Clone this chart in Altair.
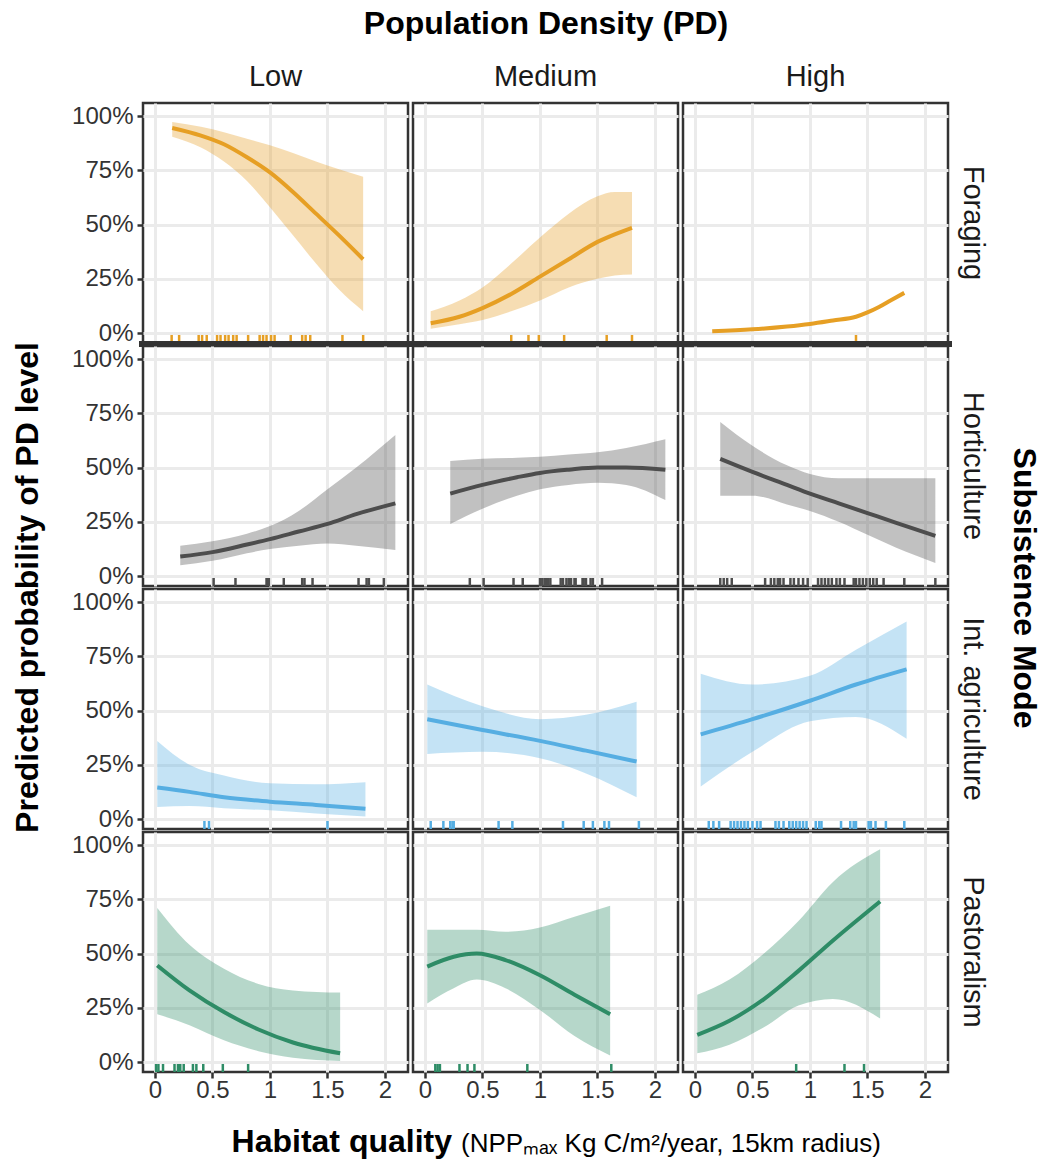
import altair as alt
import pandas as pd

MODES = ["Foraging", "Horticulture", "Int. agriculture", "Pastoralism"]
PD_LEVELS = ["Low", "Medium", "High"]
LINE_COLORS = ["#E69F24", "#4D4D4D", "#56AEE2", "#2E8C66"]

Y_TICKS = [0, 0.25, 0.5, 0.75, 1]
X_TICKS = [0, 0.5, 1, 1.5, 2]

Y_TITLE = "Predicted probability of PD level"
COL_TITLE = "Population Density (PD)"
ROW_TITLE = "Subsistence Mode"
X_TITLE_MAIN = "Habitat quality"
X_TITLE_UNITS = "(NPPₘₐₓ Kg C/m²/year, 15km radius)"

# rows: (habitat quality, fitted probability, lower CI, upper CI)
foraging_low = [(0.15, 0.945, 0.905, 0.972), (0.40, 0.91, 0.855, 0.95), (0.60, 0.87, 0.79, 0.925),
                (0.80, 0.81, 0.70, 0.895), (1.00, 0.74, 0.58, 0.865), (1.20, 0.65, 0.45, 0.83),
                (1.40, 0.55, 0.32, 0.79), (1.60, 0.45, 0.20, 0.755), (1.81, 0.34, 0.10, 0.72)]
foraging_med = [(0.05, 0.045, 0.02, 0.10), (0.30, 0.075, 0.04, 0.15), (0.50, 0.115, 0.06, 0.21),
                (0.75, 0.18, 0.10, 0.32), (1.00, 0.26, 0.15, 0.44), (1.25, 0.34, 0.21, 0.55),
                (1.50, 0.42, 0.25, 0.63), (1.65, 0.455, 0.265, 0.65), (1.80, 0.485, 0.27, 0.65)]
foraging_high = [(0.15, 0.008, 0.008, 0.008), (0.50, 0.017, 0.017, 0.017), (0.80, 0.03, 0.03, 0.03),
                 (1.00, 0.042, 0.042, 0.042), (1.20, 0.058, 0.058, 0.058), (1.40, 0.075, 0.075, 0.075),
                 (1.50, 0.095, 0.095, 0.095), (1.60, 0.12, 0.12, 0.12), (1.70, 0.15, 0.15, 0.15),
                 (1.82, 0.185, 0.185, 0.185)]
horti_low = [(0.22, 0.09, 0.05, 0.14), (0.50, 0.11, 0.07, 0.16), (0.80, 0.145, 0.105, 0.195),
             (1.00, 0.17, 0.125, 0.23), (1.25, 0.205, 0.14, 0.30), (1.50, 0.24, 0.15, 0.40),
             (1.75, 0.285, 0.14, 0.50), (2.09, 0.335, 0.12, 0.65)]
horti_med = [(0.22, 0.38, 0.24, 0.53), (0.50, 0.42, 0.31, 0.54), (0.80, 0.455, 0.37, 0.545),
             (1.00, 0.475, 0.40, 0.55), (1.25, 0.49, 0.42, 0.56), (1.50, 0.50, 0.43, 0.57),
             (1.75, 0.50, 0.42, 0.59), (2.09, 0.49, 0.35, 0.63)]
horti_high = [(0.22, 0.54, 0.37, 0.71), (0.50, 0.48, 0.37, 0.60), (0.80, 0.42, 0.33, 0.51),
              (1.00, 0.38, 0.30, 0.47), (1.25, 0.335, 0.25, 0.45), (1.50, 0.29, 0.19, 0.45),
              (1.75, 0.245, 0.13, 0.45), (2.09, 0.185, 0.06, 0.45)]
intag_low = [(0.02, 0.145, 0.055, 0.36), (0.30, 0.125, 0.06, 0.25), (0.60, 0.10, 0.05, 0.20),
             (1.00, 0.08, 0.04, 0.165), (1.40, 0.065, 0.025, 0.16), (1.83, 0.047, 0.012, 0.17)]
intag_med = [(0.02, 0.46, 0.30, 0.62), (0.50, 0.41, 0.31, 0.52), (1.00, 0.36, 0.28, 0.46),
             (1.40, 0.315, 0.21, 0.48), (1.84, 0.265, 0.10, 0.54)]
intag_high = [(0.05, 0.39, 0.15, 0.67), (0.50, 0.46, 0.31, 0.62), (1.00, 0.545, 0.45, 0.66),
              (1.40, 0.62, 0.47, 0.78), (1.84, 0.69, 0.37, 0.91)]
pasto_low = [(0.02, 0.445, 0.22, 0.71), (0.30, 0.33, 0.17, 0.54), (0.60, 0.23, 0.10, 0.43),
             (0.90, 0.15, 0.05, 0.36), (1.20, 0.09, 0.02, 0.33), (1.61, 0.04, 0.005, 0.32)]
pasto_med = [(0.02, 0.44, 0.27, 0.61), (0.25, 0.485, 0.34, 0.61), (0.45, 0.50, 0.38, 0.61),
             (0.70, 0.47, 0.34, 0.60), (1.00, 0.40, 0.24, 0.62), (1.30, 0.31, 0.12, 0.67),
             (1.61, 0.22, 0.03, 0.72)]
pasto_high = [(0.02, 0.125, 0.04, 0.31), (0.30, 0.19, 0.08, 0.38), (0.60, 0.29, 0.16, 0.50),
              (0.90, 0.42, 0.26, 0.65), (1.20, 0.56, 0.29, 0.83), (1.61, 0.74, 0.20, 0.98)]

# observed habitat quality of societies (rug)
rug_foraging_low = [0.145, 0.21, 0.38, 0.41, 0.45, 0.54, 0.57, 0.61, 0.64, 0.68, 0.71, 0.81,
                    0.91, 0.94, 0.97, 1.01, 1.04, 1.18, 1.28, 1.31, 1.35, 1.63, 1.81]
rug_foraging_med = [0.75, 0.90, 0.99, 1.21, 1.58, 1.80]
rug_foraging_high = [1.40]
rug_horti_low = [0.51, 0.70, 0.97, 0.98, 0.99, 1.12, 1.28, 1.30, 1.37, 1.77, 1.84, 1.86, 1.99]
rug_horti_med = [0.39, 0.51, 0.77, 0.85, 1.00, 1.02, 1.04, 1.05, 1.07, 1.09, 1.18, 1.20, 1.23,
                 1.25, 1.27, 1.30, 1.31, 1.37, 1.38, 1.40, 1.44, 1.46, 1.54]
rug_horti_high = [0.22, 0.25, 0.28, 0.32, 0.61, 0.66, 0.69, 0.72, 0.74, 0.77, 0.83, 0.86, 0.90,
                  0.94, 0.98, 1.07, 1.10, 1.13, 1.16, 1.19, 1.23, 1.26, 1.30, 1.38, 1.40, 1.43,
                  1.46, 1.49, 1.52, 1.55, 1.58, 1.64, 1.82, 2.09]
rug_intag_low = [0.43, 0.47, 1.50]
rug_intag_med = [0.05, 0.16, 0.22, 0.24, 0.25, 0.64, 0.76, 1.20, 1.38, 1.46, 1.56, 1.60, 1.86]
rug_intag_high = [0.12, 0.16, 0.21, 0.31, 0.34, 0.37, 0.40, 0.43, 0.46, 0.50, 0.54, 0.57, 0.70,
                  0.73, 0.77, 0.82, 0.85, 0.88, 0.91, 0.94, 0.97, 1.05, 1.08, 1.10, 1.27, 1.35,
                  1.38, 1.40, 1.51, 1.53, 1.57, 1.66, 1.82]
rug_pasto_low = [0.01, 0.03, 0.07, 0.17, 0.20, 0.22, 0.25, 0.33, 0.36, 0.42, 0.59, 0.81]
rug_pasto_med = [0.09, 0.11, 0.13, 0.30, 0.37, 0.43, 0.89, 1.62]
rug_pasto_high = [0.88, 1.30, 1.47]

CURVES = [
    ("Foraging", "Low", foraging_low, rug_foraging_low),
    ("Foraging", "Medium", foraging_med, rug_foraging_med),
    ("Foraging", "High", foraging_high, rug_foraging_high),
    ("Horticulture", "Low", horti_low, rug_horti_low),
    ("Horticulture", "Medium", horti_med, rug_horti_med),
    ("Horticulture", "High", horti_high, rug_horti_high),
    ("Int. agriculture", "Low", intag_low, rug_intag_low),
    ("Int. agriculture", "Medium", intag_med, rug_intag_med),
    ("Int. agriculture", "High", intag_high, rug_intag_high),
    ("Pastoralism", "Low", pasto_low, rug_pasto_low),
    ("Pastoralism", "Medium", pasto_med, rug_pasto_med),
    ("Pastoralism", "High", pasto_high, rug_pasto_high),
]

rows = []
for mode, pd_level, curve, rug in CURVES:
    for x, fit, lo, hi in curve:
        rows.append(dict(mode=mode, pd=pd_level, kind="curve", x=x, fit=fit, lo=lo, hi=hi))
    for x in rug:
        rows.append(dict(mode=mode, pd=pd_level, kind="rug", x=x))
for pd_level in PD_LEVELS:
    rows.append(dict(mode="Foraging", pd=pd_level, kind="bar"))
df = pd.DataFrame(rows)

W, H = 265, 240
ROW_GAP, COL_GAP = 3, 5
GRID_H = 4 * H + 3 * ROW_GAP
PAD_TOP = 8
x_scale = alt.Scale(domain=[-0.104, 2.2], nice=False, zero=False)
y_scale = alt.Scale(domain=[-0.046, 1.06], nice=False, zero=False)
color = alt.Color("mode:N", scale=alt.Scale(domain=MODES, range=LINE_COLORS), legend=None)

x_enc = alt.X("x:Q", scale=x_scale, title=None,
              axis=alt.Axis(values=X_TICKS, format="~g", labelPadding=0))
base = alt.Chart()

band = base.transform_filter(alt.datum.kind == "curve").mark_area(
    opacity=0.35, interpolate="monotone"
).encode(
    x=x_enc,
    y=alt.Y("lo:Q", scale=y_scale, title=None,
            axis=alt.Axis(values=Y_TICKS, format=".0%", labelPadding=4)),
    y2="hi:Q",
    color=color,
)
line = base.transform_filter(alt.datum.kind == "curve").mark_line(
    strokeWidth=4, interpolate="monotone"
).encode(
    x=x_enc,
    y=alt.Y("fit:Q", scale=y_scale, title=None),
    color=color,
)
rug = base.transform_filter(alt.datum.kind == "rug").mark_rule(strokeWidth=2.5).encode(
    x=x_enc,
    y=alt.value(H - 8),
    y2=alt.value(H),
    color=color,
)
bar = base.transform_filter(alt.datum.kind == "bar").mark_rule(
    strokeWidth=6, color="#333333"
).encode(
    x=alt.value(-4),
    x2=alt.value(W + 4),
    y=alt.value(H + 1),
)

panel = alt.layer(band, line, rug, bar).properties(width=W, height=H)

grid = panel.facet(
    data=df,
    row=alt.Row("mode:N", sort=MODES, title=ROW_TITLE,
                header=alt.Header(labelAngle=90, labelOrient="right", titleOrient="right",
                                  titleAngle=90, labelFontSize=29, titleFontSize=32,
                                  titleFontWeight="bold", labelPadding=10, titlePadding=10,
                                  labelColor="#1a1a1a", titleColor="#000000")),
    column=alt.Column("pd:N", sort=PD_LEVELS, title=COL_TITLE,
                      header=alt.Header(labelFontSize=29, titleFontSize=32,
                                        titleFontWeight="bold", labelPadding=11,
                                        titlePadding=12, labelColor="#1a1a1a",
                                        titleColor="#000000")),
    spacing={"row": ROW_GAP, "column": COL_GAP},
    bounds="flush",
)

t_main = alt.Chart(pd.DataFrame({"t": [X_TITLE_MAIN]})).mark_text(
    fontSize=32, fontWeight="bold", align="right", baseline="alphabetic", color="#000000"
).encode(x=alt.value(309), y=alt.value(38), text="t:N")
t_units = alt.Chart(pd.DataFrame({"t": [X_TITLE_UNITS]})).mark_text(
    fontSize=26, align="left", baseline="alphabetic", color="#000000"
).encode(x=alt.value(318), y=alt.value(38), text="t:N")
x_title = alt.layer(t_main, t_units).properties(
    width=3 * W + 2 * COL_GAP, height=42, view=alt.ViewBackground(stroke="transparent")
)

y_title = alt.Chart(pd.DataFrame({"t": [Y_TITLE]})).mark_text(
    fontSize=32, fontWeight="bold", align="center", baseline="middle", angle=270,
    color="#000000"
).encode(x=alt.value(18), y=alt.value(GRID_H / 2), text="t:N").properties(
    width=36, height=GRID_H, view=alt.ViewBackground(stroke="transparent")
)

chart = alt.hconcat(
    y_title, alt.vconcat(grid, x_title, spacing=10), spacing=23
).properties(
    padding={"left": 8, "top": PAD_TOP, "right": 2, "bottom": 0},
).configure(
    font="Liberation Sans"
).configure_view(
    stroke="#333333", strokeWidth=2.5
).configure_axis(
    grid=True, gridColor="#EBEBEB", gridWidth=3, domain=False,
    tickColor="#333333", tickWidth=2.5, tickSize=6,
    labelFontSize=24, labelColor="#333333",
)

chart.save("out.html", embed_options={"renderer": "svg", "actions": False})
